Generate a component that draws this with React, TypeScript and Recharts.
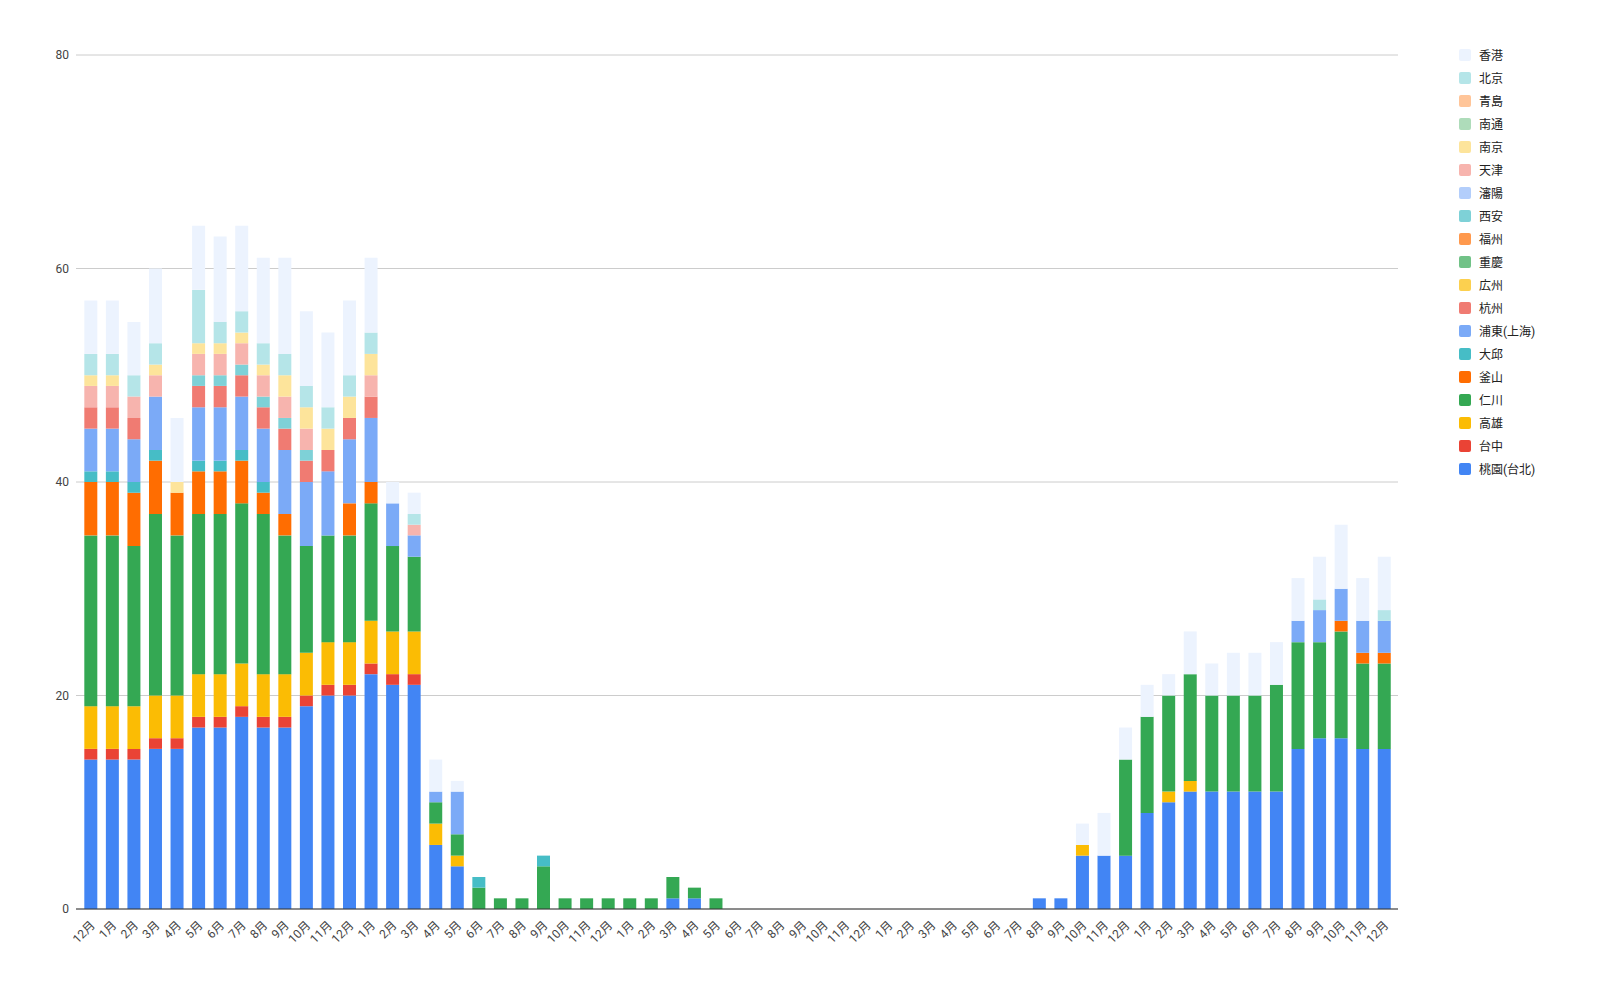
import React from "react";
import { BarChart, Bar, XAxis, YAxis, CartesianGrid } from "recharts";

// months from 12/2018 to 12/2023
const months = [
  "12月",
  "1月", "2月", "3月", "4月", "5月", "6月", "7月", "8月", "9月", "10月", "11月", "12月",
  "1月", "2月", "3月", "4月", "5月", "6月", "7月", "8月", "9月", "10月", "11月", "12月",
  "1月", "2月", "3月", "4月", "5月", "6月", "7月", "8月", "9月", "10月", "11月", "12月",
  "1月", "2月", "3月", "4月", "5月", "6月", "7月", "8月", "9月", "10月", "11月", "12月",
  "1月", "2月", "3月", "4月", "5月", "6月", "7月", "8月", "9月", "10月", "11月", "12月",
];

const yTicks = [0, 20, 40, 60, 80];

// counts per series (bottom of stack first)
const taoyuan = [14, 14, 14, 15, 15, 17, 17, 18, 17, 17, 19, 20, 20, 22, 21, 21, 6, 4, 0, 0, 0, 0, 0, 0, 0, 0, 0, 1, 1, 0, 0, 0, 0, 0, 0, 0, 0, 0, 0, 0, 0, 0, 0, 0, 1, 1, 5, 5, 5, 9, 10, 11, 11, 11, 11, 11, 15, 16, 16, 15, 15];
const taichung = [1, 1, 1, 1, 1, 1, 1, 1, 1, 1, 1, 1, 1, 1, 1, 1, 0, 0, 0, 0, 0, 0, 0, 0, 0, 0, 0, 0, 0, 0, 0, 0, 0, 0, 0, 0, 0, 0, 0, 0, 0, 0, 0, 0, 0, 0, 0, 0, 0, 0, 0, 0, 0, 0, 0, 0, 0, 0, 0, 0, 0];
const kaohsiung = [4, 4, 4, 4, 4, 4, 4, 4, 4, 4, 4, 4, 4, 4, 4, 4, 2, 1, 0, 0, 0, 0, 0, 0, 0, 0, 0, 0, 0, 0, 0, 0, 0, 0, 0, 0, 0, 0, 0, 0, 0, 0, 0, 0, 0, 0, 1, 0, 0, 0, 1, 1, 0, 0, 0, 0, 0, 0, 0, 0, 0];
const incheon = [16, 16, 15, 17, 15, 15, 15, 15, 15, 13, 10, 10, 10, 11, 8, 7, 2, 2, 2, 1, 1, 4, 1, 1, 1, 1, 1, 2, 1, 1, 0, 0, 0, 0, 0, 0, 0, 0, 0, 0, 0, 0, 0, 0, 0, 0, 0, 0, 9, 9, 9, 10, 9, 9, 9, 10, 10, 9, 10, 8, 8];
const busan = [5, 5, 5, 5, 4, 4, 4, 4, 2, 2, 0, 0, 3, 2, 0, 0, 0, 0, 0, 0, 0, 0, 0, 0, 0, 0, 0, 0, 0, 0, 0, 0, 0, 0, 0, 0, 0, 0, 0, 0, 0, 0, 0, 0, 0, 0, 0, 0, 0, 0, 0, 0, 0, 0, 0, 0, 0, 0, 1, 1, 1];
const daegu = [1, 1, 1, 1, 0, 1, 1, 1, 1, 0, 0, 0, 0, 0, 0, 0, 0, 0, 1, 0, 0, 1, 0, 0, 0, 0, 0, 0, 0, 0, 0, 0, 0, 0, 0, 0, 0, 0, 0, 0, 0, 0, 0, 0, 0, 0, 0, 0, 0, 0, 0, 0, 0, 0, 0, 0, 0, 0, 0, 0, 0];
const pudong = [4, 4, 4, 5, 0, 5, 5, 5, 5, 6, 6, 6, 6, 6, 4, 2, 1, 4, 0, 0, 0, 0, 0, 0, 0, 0, 0, 0, 0, 0, 0, 0, 0, 0, 0, 0, 0, 0, 0, 0, 0, 0, 0, 0, 0, 0, 0, 0, 0, 0, 0, 0, 0, 0, 0, 0, 2, 3, 3, 3, 3];
const hangzhou = [2, 2, 2, 0, 0, 2, 2, 2, 2, 2, 2, 2, 2, 2, 0, 0, 0, 0, 0, 0, 0, 0, 0, 0, 0, 0, 0, 0, 0, 0, 0, 0, 0, 0, 0, 0, 0, 0, 0, 0, 0, 0, 0, 0, 0, 0, 0, 0, 0, 0, 0, 0, 0, 0, 0, 0, 0, 0, 0, 0, 0];
const guangzhou = new Array(61).fill(0);
const chongqing = new Array(61).fill(0);
const fuzhou = new Array(61).fill(0);
const xian = [0, 0, 0, 0, 0, 1, 1, 1, 1, 1, 1, 0, 0, 0, 0, 0, 0, 0, 0, 0, 0, 0, 0, 0, 0, 0, 0, 0, 0, 0, 0, 0, 0, 0, 0, 0, 0, 0, 0, 0, 0, 0, 0, 0, 0, 0, 0, 0, 0, 0, 0, 0, 0, 0, 0, 0, 0, 0, 0, 0, 0];
const shenyang = new Array(61).fill(0);
const tianjin = [2, 2, 2, 2, 0, 2, 2, 2, 2, 2, 2, 0, 0, 2, 0, 1, 0, 0, 0, 0, 0, 0, 0, 0, 0, 0, 0, 0, 0, 0, 0, 0, 0, 0, 0, 0, 0, 0, 0, 0, 0, 0, 0, 0, 0, 0, 0, 0, 0, 0, 0, 0, 0, 0, 0, 0, 0, 0, 0, 0, 0];
const nanjing = [1, 1, 0, 1, 1, 1, 1, 1, 1, 2, 2, 2, 2, 2, 0, 0, 0, 0, 0, 0, 0, 0, 0, 0, 0, 0, 0, 0, 0, 0, 0, 0, 0, 0, 0, 0, 0, 0, 0, 0, 0, 0, 0, 0, 0, 0, 0, 0, 0, 0, 0, 0, 0, 0, 0, 0, 0, 0, 0, 0, 0];
const nantong = new Array(61).fill(0);
const qingdao = new Array(61).fill(0);
const beijing = [2, 2, 2, 2, 0, 5, 2, 2, 2, 2, 2, 2, 2, 2, 0, 1, 0, 0, 0, 0, 0, 0, 0, 0, 0, 0, 0, 0, 0, 0, 0, 0, 0, 0, 0, 0, 0, 0, 0, 0, 0, 0, 0, 0, 0, 0, 0, 0, 0, 0, 0, 0, 0, 0, 0, 0, 0, 1, 0, 0, 1];
const hongkong = [5, 5, 5, 7, 6, 6, 8, 8, 8, 9, 7, 7, 7, 7, 2, 2, 3, 1, 0, 0, 0, 0, 0, 0, 0, 0, 0, 0, 0, 0, 0, 0, 0, 0, 0, 0, 0, 0, 0, 0, 0, 0, 0, 0, 0, 0, 2, 4, 3, 3, 2, 4, 3, 4, 4, 4, 4, 4, 6, 4, 5];

const series = [
  { key: "taoyuan", name: "桃園(台北)", color: "#4285F4", values: taoyuan },
  { key: "taichung", name: "台中", color: "#EA4335", values: taichung },
  { key: "kaohsiung", name: "高雄", color: "#FBBC04", values: kaohsiung },
  { key: "incheon", name: "仁川", color: "#34A853", values: incheon },
  { key: "busan", name: "釜山", color: "#FF6D01", values: busan },
  { key: "daegu", name: "大邱", color: "#46BDC6", values: daegu },
  { key: "pudong", name: "浦東(上海)", color: "#7BAAF7", values: pudong },
  { key: "hangzhou", name: "杭州", color: "#F07B72", values: hangzhou },
  { key: "guangzhou", name: "広州", color: "#FCD04F", values: guangzhou },
  { key: "chongqing", name: "重慶", color: "#71C287", values: chongqing },
  { key: "fuzhou", name: "福州", color: "#FF994D", values: fuzhou },
  { key: "xian", name: "西安", color: "#7ED1D7", values: xian },
  { key: "shenyang", name: "瀋陽", color: "#B3CEFB", values: shenyang },
  { key: "tianjin", name: "天津", color: "#F7B4AE", values: tianjin },
  { key: "nanjing", name: "南京", color: "#FDE49B", values: nanjing },
  { key: "nantong", name: "南通", color: "#AEDCBA", values: nantong },
  { key: "qingdao", name: "青島", color: "#FFC599", values: qingdao },
  { key: "beijing", name: "北京", color: "#B5E5E8", values: beijing },
  { key: "hongkong", name: "香港", color: "#ECF3FE", values: hongkong },
];

const data = months.map((m, i) => {
  const row: Record<string, any> = { idx: i, month: m };
  series.forEach((s) => {
    row[s.key] = s.values[i];
  });
  return row;
});

const FONT = "Roboto, 'Noto Sans CJK JP', sans-serif";

function MonthTick(props: any) {
  const { x, y, payload } = props;
  const label = months[payload.value];
  return (
    <text
      x={x + 5}
      y={y + 9}
      transform={`rotate(-45, ${x + 5}, ${y + 9})`}
      textAnchor="end"
      fontSize={12}
      fill="#444"
      fontFamily={FONT}
    >
      {label}
    </text>
  );
}

function SideLegend() {
  const items = [...series].reverse();
  return (
    <div style={{ position: "absolute", left: 1459, top: 43, fontFamily: FONT }}>
      {items.map((s) => (
        <div key={s.key} style={{ display: "flex", alignItems: "center", height: 23 }}>
          <div
            style={{
              width: 12,
              height: 12,
              borderRadius: 2,
              backgroundColor: s.color,
              marginRight: 8,
            }}
          />
          <span style={{ fontSize: 12, color: "#222" }}>{s.name}</span>
        </div>
      ))}
    </div>
  );
}

export default function App() {
  return (
    <div style={{ position: "absolute", left: 0, top: 0, width: 1597, height: 988, background: "#fff" }}>
      <BarChart
        width={1597}
        height={988}
        data={data}
        margin={{ top: 55, right: 199, left: 36, bottom: 29 }}
        barCategoryGap="20%"
      >
        <CartesianGrid vertical={false} stroke="#ccc" />
        <XAxis
          dataKey="idx"
          type="category"
          interval={0}
          height={50}
          tick={<MonthTick />}
          tickLine={false}
          axisLine={{ stroke: "#333" }}
          padding={{ left: 4, right: 3 }}
        />
        <YAxis
          width={40}
          domain={[0, 80]}
          ticks={yTicks}
          axisLine={false}
          tickLine={false}
          tick={{ fontSize: 12, fill: "#444", fontFamily: FONT }}
          tickMargin={1}
        />
        {series.map((s) => (
          <Bar
            key={s.key}
            dataKey={s.key}
            name={s.name}
            stackId="a"
            fill={s.color}
            isAnimationActive={false}
          />
        ))}
      </BarChart>
      <SideLegend />
    </div>
  );
}
